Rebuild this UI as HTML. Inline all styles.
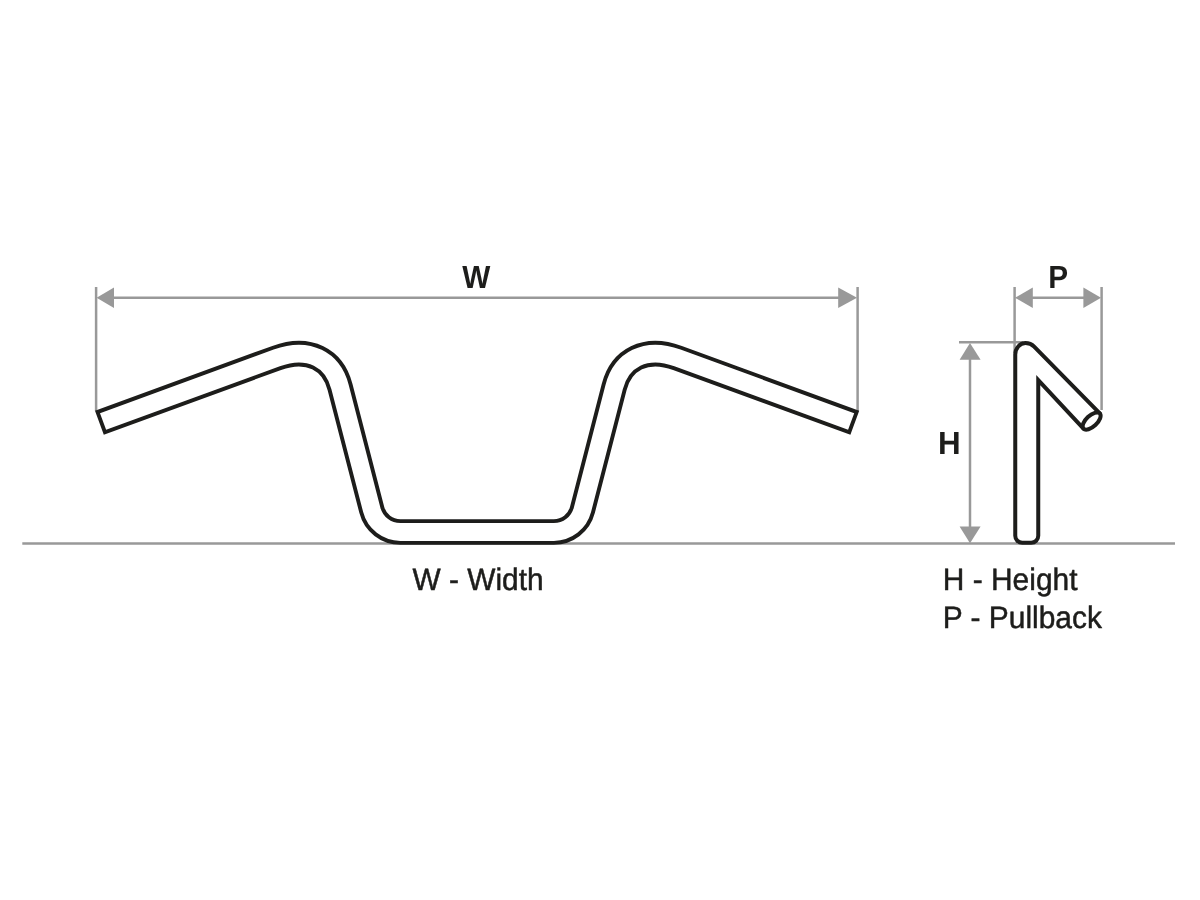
<!DOCTYPE html>
<html lang="en">
<head>
<meta charset="utf-8">
<title>Handlebar dimensions</title>
<style>
html,body{margin:0;padding:0;background:#ffffff;}
body{width:1200px;height:900px;overflow:hidden;font-family:"Liberation Sans",sans-serif;}
svg{display:block;will-change:transform;}
text{text-rendering:geometricPrecision;}
</style>
</head>
<body>
<svg width="1200" height="900" viewBox="0 0 1200 900">
<rect width="1200" height="900" fill="#ffffff"/>
<g stroke="#999999" stroke-width="2.5" fill="none">
<line x1="22.3" y1="543.45" x2="1175" y2="543.45" stroke-width="2.6"/>
<line x1="96.1" y1="287" x2="96.1" y2="411"/>
<line x1="857.6" y1="287" x2="857.6" y2="411"/>
<line x1="112" y1="297.8" x2="840" y2="297.8"/>
<line x1="1014.6" y1="287" x2="1014.6" y2="353"/>
<line x1="1101.6" y1="287" x2="1101.6" y2="410"/>
<line x1="1030" y1="297.8" x2="1086" y2="297.8"/>
<line x1="959" y1="342.2" x2="1023" y2="342.2"/>
<line x1="970" y1="358" x2="970" y2="528"/>
</g>
<g fill="#999999" stroke="none">
<polygon points="96.6,297.8 114,287.6 114,308"/>
<polygon points="857,297.8 838.2,287.6 838.2,308"/>
<polygon points="1015,297.8 1032.8,287.6 1032.8,308"/>
<polygon points="1101,297.8 1083.4,287.6 1083.4,308"/>
<polygon points="970,343 959.6,359.8 980.6,359.8"/>
<polygon points="970,543.2 959.6,526.5 980.6,526.5"/>
</g>
<path d="M99.40 422.85 L276.74 357.91 C308.79 346.17 332.96 359.63 340.03 386.97 L371.78 509.88 A29.50 29.50 0 0 0 400.35 532.00 L553.85 532.00 A29.50 29.50 0 0 0 582.42 509.88 L614.17 386.97 C621.24 359.63 645.41 346.17 677.46 357.91 L854.80 422.85" fill="none" stroke="#1d1d1b" stroke-width="25.60" stroke-linecap="butt" stroke-linejoin="round"/>
<path d="M103.06 421.51 L276.74 357.91 C308.79 346.17 332.96 359.63 340.03 386.97 L371.78 509.88 A29.50 29.50 0 0 0 400.35 532.00 L553.85 532.00 A29.50 29.50 0 0 0 582.42 509.88 L614.17 386.97 C621.24 359.63 645.41 346.17 677.46 357.91 L851.14 421.51" fill="none" stroke="#ffffff" stroke-width="17.80" stroke-linecap="butt" stroke-linejoin="round"/>
<path d="M1015.25 535.80 L1015.25 354.60 A10.25 11.50 0 0 1 1025.50 343.10 A12.14 12.14 0 0 1 1034.15 346.72 L1099.80 413.41 L1083.49 428.62 L1038.25 380.10 L1038.25 535.80 A7.00 7.00 0 0 1 1031.25 542.80 L1022.25 542.80 A7.00 7.00 0 0 1 1015.25 535.80 Z" fill="#ffffff" stroke="none"/>
<path d="M1015.25 535.80 L1015.25 354.60 A10.25 11.50 0 0 1 1025.50 343.10 A12.14 12.14 0 0 1 1034.15 346.72 L1099.80 413.41 M1083.49 428.62 L1038.25 380.10 L1038.25 535.80 A7.00 7.00 0 0 1 1031.25 542.80 L1022.25 542.80 A7.00 7.00 0 0 1 1015.25 535.80" fill="none" stroke="#1d1d1b" stroke-width="4.00" stroke-linejoin="miter" stroke-linecap="round"/>
<ellipse cx="1091.65" cy="421.02" rx="11.15" ry="5.50" transform="rotate(-43.00 1091.65 421.02)" fill="#ffffff" stroke="#1d1d1b" stroke-width="4.00"/>
<g font-family="&quot;Liberation Sans&quot;, sans-serif" fill="#1d1d1b">
<text transform="translate(476.20 287.70) scale(0.9300 1)" font-size="32" font-weight="700" text-anchor="middle">W</text>
<text transform="translate(1058.20 287.80) scale(0.9300 1)" font-size="32" font-weight="700" text-anchor="middle">P</text>
<text transform="translate(949.30 453.80) scale(0.9800 1)" font-size="32" font-weight="700" text-anchor="middle">H</text>
<text transform="translate(412.60 589.80) scale(0.9630 1)" font-size="31" stroke="#1d1d1b" stroke-width="0.5" stroke-linejoin="round" text-anchor="start">W - Width</text>
<text transform="translate(942.80 590.00) scale(0.9650 1)" font-size="31" stroke="#1d1d1b" stroke-width="0.5" stroke-linejoin="round" text-anchor="start">H - Height</text>
<text transform="translate(942.80 627.50) scale(0.9650 1)" font-size="31" stroke="#1d1d1b" stroke-width="0.5" stroke-linejoin="round" text-anchor="start">P - Pullback</text>
</g>
</svg>
</body>
</html>
